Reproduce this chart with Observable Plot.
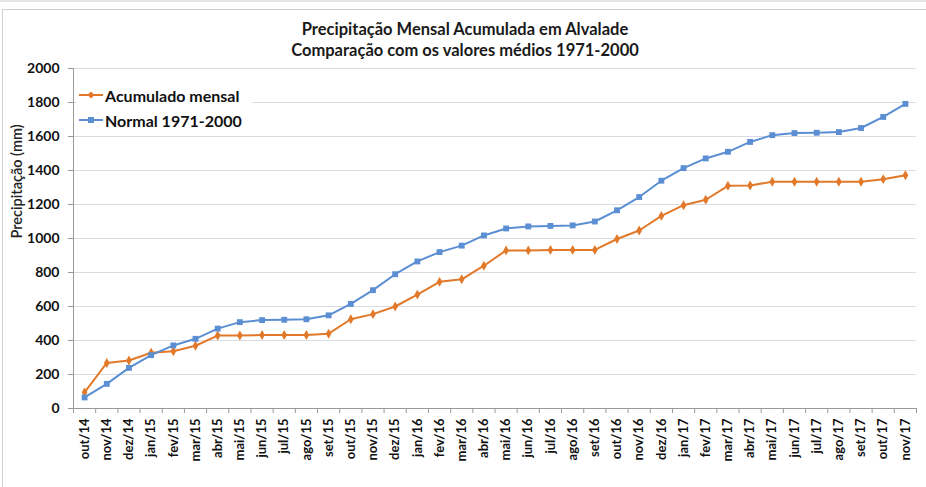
<!DOCTYPE html>
<html>
<head>
<meta charset="utf-8">
<script src="https://cdn.jsdelivr.net/npm/d3@7"></script>
<script src="https://cdn.jsdelivr.net/npm/@observablehq/plot@0.6"></script>
<style>
  html, body { margin: 0; padding: 0; background: #fff; }
  #wrap { position: relative; width: 926px; height: 487px; overflow: hidden; font-family: Lato, "Open Sans", sans-serif; }
  #frame { position: absolute; left: 2px; top: 9px; width: 1000px; height: 600px; border-left: 1px solid #d0d0d0; border-top: 1px solid #d0d0d0; }
  #topband { position: absolute; left: 0; top: 0; width: 926px; height: 2px; background: #e6e6e6; }
  #title { position: absolute; left: 0; width: 930px; top: 19px; text-align: center; font-weight: bold; font-size: 16.5px; line-height: 21px; color: #1a1a1a; }
  #chart { position: absolute; left: 0; top: 0; }
  #legend { position: absolute; left: 76px; top: 84px; width: 176px; height: 48px; background: #fff; font-weight: bold; font-size: 16px; color: #111; }
  .li { position: absolute; left: 3px; height: 22px; display: flex; align-items: center; white-space: nowrap; }
  .li svg { margin-right: 2px; }
</style>
</head>
<body>
<div id="wrap">
  <div id="topband"></div>
  <div id="frame"></div>
  <div id="chart"></div>
  <div id="title">Precipitação Mensal Acumulada em Alvalade<br>Comparação com os valores médios 1971-2000</div>
  <div id="legend"></div>
</div>
<script>
const months = ["out/14","nov/14","dez/14","jan/15","fev/15","mar/15","abr/15","mai/15","jun/15","jul/15","ago/15","set/15",
  "out/15","nov/15","dez/15","jan/16","fev/16","mar/16","abr/16","mai/16","jun/16","jul/16","ago/16","set/16",
  "out/16","nov/16","dez/16","jan/17","fev/17","mar/17","abr/17","mai/17","jun/17","jul/17","ago/17","set/17","out/17","nov/17"];
const acumulado = [95,268,282,328,337,369,429,429,432,432,432,440,
  525,555,600,670,745,760,840,930,930,933,933,933,
  997,1047,1133,1196,1228,1310,1312,1334,1334,1334,1334,1334,1349,1372];
const normal = [65,145,239,314,371,410,470,508,520,522,525,548,
  615,696,790,865,920,958,1018,1059,1071,1074,1077,1100,
  1166,1244,1340,1414,1471,1510,1568,1608,1620,1622,1626,1650,1715,1792];
const yTicks = [0,200,400,600,800,1000,1200,1400,1600,1800,2000];
const seriesNames = ["Acumulado mensal","Normal 1971-2000"];
const colors = ["#E2792A","#5B8ED2"];

const rows = months.flatMap((m, i) => [
  {i, serie: seriesNames[0], v: acumulado[i]},
  {i, serie: seriesNames[1], v: normal[i]}
]);
const boundaries = d3.range(months.length + 1).map(i => i - 0.5);
const axisColor = "#9a9a9a";

const chart = Plot.plot({
  width: 926,
  height: 487,
  marginLeft: 73,
  marginRight: 10,
  marginTop: 68,
  marginBottom: 79,
  style: { fontFamily: "Lato, 'Open Sans', sans-serif", background: "transparent", overflow: "visible" },
  x: { type: "linear", domain: [-0.5, months.length - 0.5] },
  y: { domain: [0, 2000] },
  color: { domain: seriesNames, range: colors },
  marks: [
    Plot.gridY(yTicks, { stroke: "#d9dde3", strokeOpacity: 1 }),
    Plot.ruleX([-0.5], { stroke: axisColor, y1: 0, y2: 2000 }),
    Plot.ruleY([0], { stroke: axisColor }),
    Plot.axisY(yTicks, {
      tickSize: 5, tickPadding: 9, stroke: axisColor, tickFormat: d => String(d),
      fontSize: 14, fontWeight: "bold", fill: "#111",
      label: null
    }),
    Plot.text(["Precipitação (mm)"], {
      frameAnchor: "left", dx: -56, rotate: -90, fontSize: 14.5, fill: "#222", fontWeight: 600
    }),
    Plot.axisX(boundaries, { tickSize: 5, stroke: axisColor, tickFormat: () => "", label: null }),
    Plot.axisX(d3.range(months.length), {
      tickSize: 0, tickPadding: 10, tickRotate: -90, tickFormat: i => months[i],
      fontSize: 13, fontWeight: "bold", fill: "#111", label: null
    }),
    Plot.line(rows, { x: "i", y: "v", stroke: "serie", strokeWidth: 2 }),
    Plot.dot(rows.filter(d => d.serie === seriesNames[0]), { x: "i", y: "v", fill: "serie", symbol: "diamond", r: 3, stroke: "none" }),
    Plot.dot(rows.filter(d => d.serie === seriesNames[1]), { x: "i", y: "v", fill: "serie", symbol: "square", r: 3.3, stroke: "none" })
  ]
});
document.getElementById("chart").appendChild(chart);

// legend
const legend = document.getElementById("legend");
const symbolSvg = (k) => {
  const c = colors[k];
  const mark = k === 0
    ? `<path d="M12 7.5 L15.5 11 L12 14.5 L8.5 11 Z" fill="${c}"/>`
    : `<rect x="9" y="8" width="6" height="6" fill="${c}"/>`;
  return `<svg width="24" height="22"><line x1="0" y1="11" x2="24" y2="11" stroke="${c}" stroke-width="2"/>${mark}</svg>`;
};
seriesNames.forEach((name, k) => {
  const d = document.createElement("div");
  d.className = "li";
  d.style.top = (k * 25) + "px";
  d.innerHTML = symbolSvg(k) + `<span>${name}</span>`;
  legend.appendChild(d);
});
</script>
</body>
</html>
